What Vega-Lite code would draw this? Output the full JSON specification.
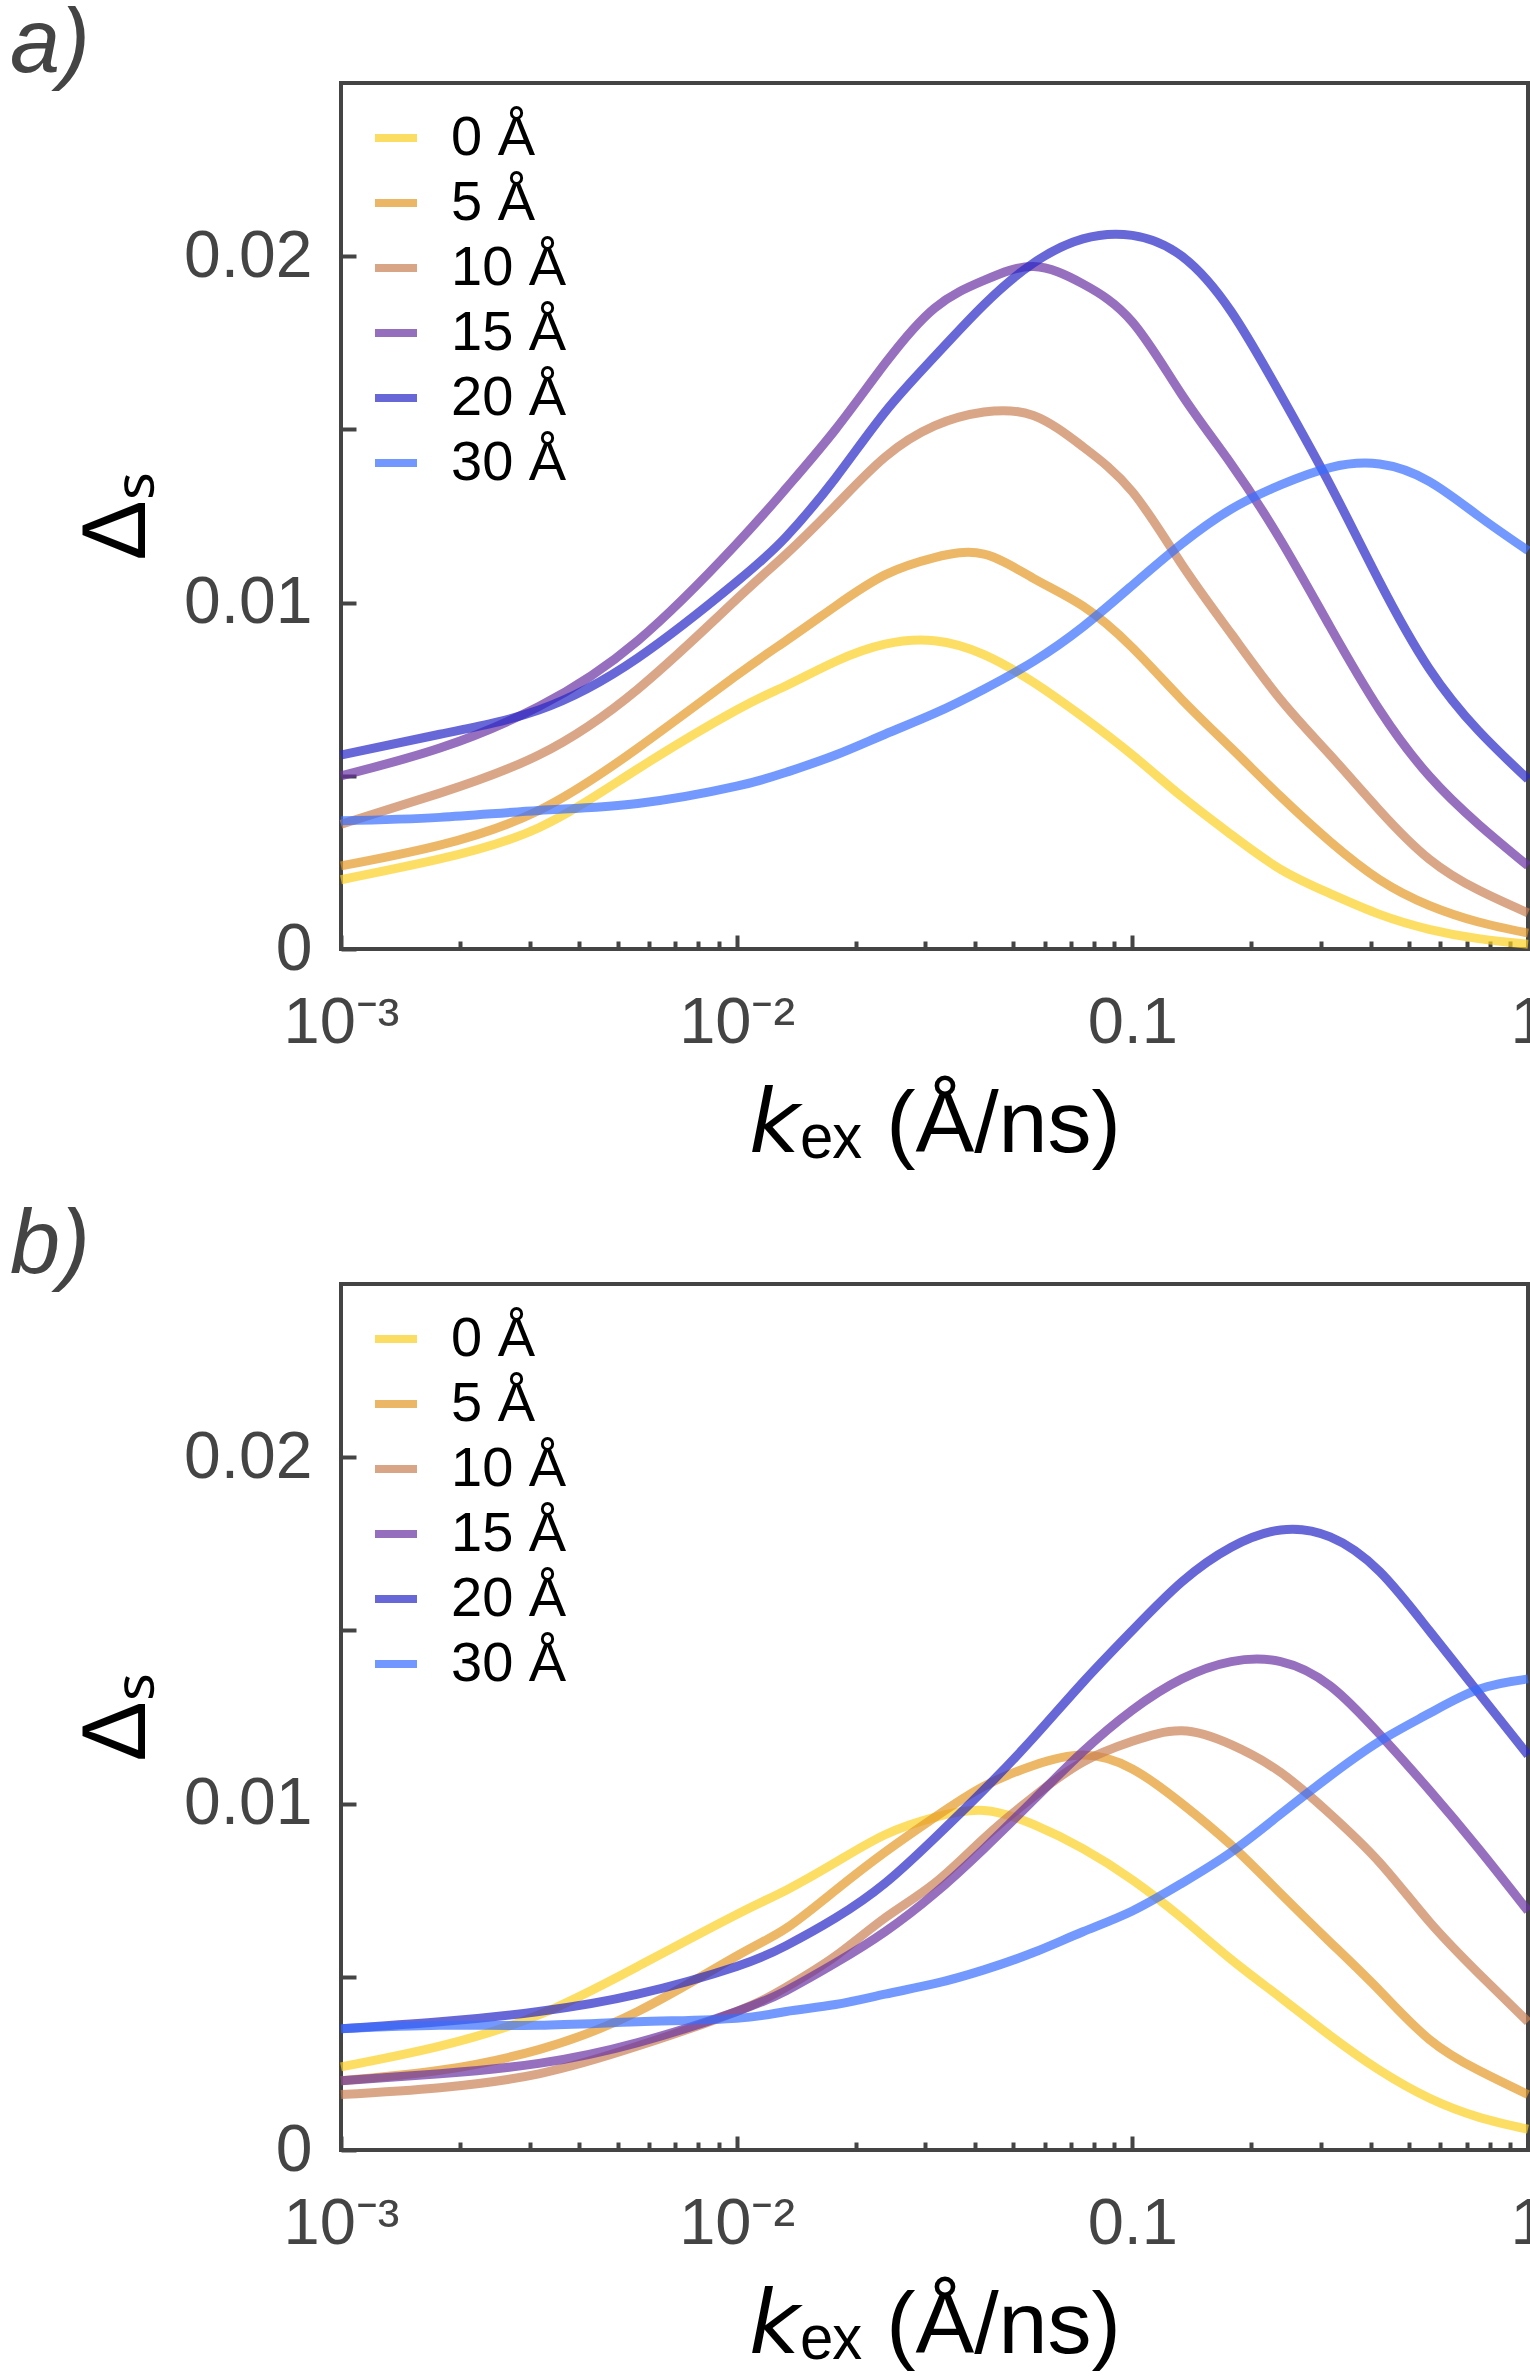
{
  "$schema": "https://vega.github.io/schema/vega-lite/v6.json",
  "description": "Delta_S versus k_ex for several distances, two panels (a, b).",
  "background": "white",
  "padding": {"left": 8, "top": -2, "right": 0, "bottom": 0},
  "spacing": 28,
  "config": {
    "font": "Liberation Sans",
    "view": {"stroke": "#444444", "strokeWidth": 4},
    "axis": {
      "domain": false,
      "grid": false,
      "tickColor": "#444444",
      "tickWidth": 4,
      "labelFont": "Liberation Sans",
      "labelColor": "#444444",
      "labelOverlap": false,
      "labelFlush": false,
      "titleFont": "Liberation Sans",
      "titleFontWeight": "normal",
      "titleColor": "black"
    },
    "legend": {
      "title": null,
      "orient": "top-left",
      "offset": 27,
      "padding": 0,
      "symbolType": "stroke",
      "symbolSize": 1764,
      "symbolStrokeWidth": 8,
      "symbolOpacity": 0.7,
      "labelFont": "Liberation Sans",
      "labelFontSize": 56,
      "labelColor": "black",
      "labelOffset": 27,
      "rowPadding": 9
    },
    "title": {"font": "Liberation Sans", "fontSize": 90, "fontStyle": "italic", "fontWeight": "normal", "color": "#444444", "anchor": "start", "frame": "group", "dx": -331, "offset": -8, "baseline": "bottom"}
  },
  "datasets": {
    "a": [
      {"d": "0 Å", "k": 0.001, "v": 0.0020}, {"d": "0 Å", "k": 0.001778, "v": 0.0026}, {"d": "0 Å", "k": 0.003162, "v": 0.0035}, {"d": "0 Å", "k": 0.005623, "v": 0.0052}, {"d": "0 Å", "k": 0.01, "v": 0.0069}, {"d": "0 Å", "k": 0.01334, "v": 0.0076}, {"d": "0 Å", "k": 0.01778, "v": 0.0083}, {"d": "0 Å", "k": 0.02371, "v": 0.0088}, {"d": "0 Å", "k": 0.03162, "v": 0.0089}, {"d": "0 Å", "k": 0.04217, "v": 0.0085}, {"d": "0 Å", "k": 0.05623, "v": 0.0077}, {"d": "0 Å", "k": 0.07499, "v": 0.0067}, {"d": "0 Å", "k": 0.1, "v": 0.0056}, {"d": "0 Å", "k": 0.1334, "v": 0.0044}, {"d": "0 Å", "k": 0.1778, "v": 0.0033}, {"d": "0 Å", "k": 0.2371, "v": 0.0023}, {"d": "0 Å", "k": 0.3162, "v": 0.0016}, {"d": "0 Å", "k": 0.4217, "v": 0.0010}, {"d": "0 Å", "k": 0.5623, "v": 0.00057}, {"d": "0 Å", "k": 0.7499, "v": 0.0003}, {"d": "0 Å", "k": 1, "v": 0.00014},
      {"d": "5 Å", "k": 0.001, "v": 0.0024}, {"d": "5 Å", "k": 0.001778, "v": 0.0030}, {"d": "5 Å", "k": 0.003162, "v": 0.0040}, {"d": "5 Å", "k": 0.005623, "v": 0.0058}, {"d": "5 Å", "k": 0.01, "v": 0.0079}, {"d": "5 Å", "k": 0.01334, "v": 0.0089}, {"d": "5 Å", "k": 0.01778, "v": 0.0099}, {"d": "5 Å", "k": 0.02371, "v": 0.0108}, {"d": "5 Å", "k": 0.03162, "v": 0.0113}, {"d": "5 Å", "k": 0.04217, "v": 0.0114}, {"d": "5 Å", "k": 0.05623, "v": 0.0107}, {"d": "5 Å", "k": 0.07499, "v": 0.0099}, {"d": "5 Å", "k": 0.1, "v": 0.0087}, {"d": "5 Å", "k": 0.1334, "v": 0.0072}, {"d": "5 Å", "k": 0.1778, "v": 0.0058}, {"d": "5 Å", "k": 0.2371, "v": 0.0044}, {"d": "5 Å", "k": 0.3162, "v": 0.0031}, {"d": "5 Å", "k": 0.4217, "v": 0.0020}, {"d": "5 Å", "k": 0.5623, "v": 0.00126}, {"d": "5 Å", "k": 0.7499, "v": 0.00078}, {"d": "5 Å", "k": 1, "v": 0.00046},
      {"d": "10 Å", "k": 0.001, "v": 0.0036}, {"d": "10 Å", "k": 0.001778, "v": 0.0045}, {"d": "10 Å", "k": 0.003162, "v": 0.0056}, {"d": "10 Å", "k": 0.005623, "v": 0.0075}, {"d": "10 Å", "k": 0.01, "v": 0.0101}, {"d": "10 Å", "k": 0.01334, "v": 0.0114}, {"d": "10 Å", "k": 0.01778, "v": 0.0128}, {"d": "10 Å", "k": 0.02371, "v": 0.0142}, {"d": "10 Å", "k": 0.03162, "v": 0.0151}, {"d": "10 Å", "k": 0.04217, "v": 0.0155}, {"d": "10 Å", "k": 0.05623, "v": 0.0154}, {"d": "10 Å", "k": 0.07499, "v": 0.0145}, {"d": "10 Å", "k": 0.1, "v": 0.0132}, {"d": "10 Å", "k": 0.1334, "v": 0.0111}, {"d": "10 Å", "k": 0.1778, "v": 0.0091}, {"d": "10 Å", "k": 0.2371, "v": 0.0072}, {"d": "10 Å", "k": 0.3162, "v": 0.0056}, {"d": "10 Å", "k": 0.4217, "v": 0.0040}, {"d": "10 Å", "k": 0.5623, "v": 0.0026}, {"d": "10 Å", "k": 0.7499, "v": 0.0017}, {"d": "10 Å", "k": 1, "v": 0.00104},
      {"d": "15 Å", "k": 0.001, "v": 0.0050}, {"d": "15 Å", "k": 0.001778, "v": 0.0058}, {"d": "15 Å", "k": 0.003162, "v": 0.0070}, {"d": "15 Å", "k": 0.005623, "v": 0.0089}, {"d": "15 Å", "k": 0.01, "v": 0.0117}, {"d": "15 Å", "k": 0.01334, "v": 0.0133}, {"d": "15 Å", "k": 0.01778, "v": 0.0150}, {"d": "15 Å", "k": 0.02371, "v": 0.0169}, {"d": "15 Å", "k": 0.03162, "v": 0.0185}, {"d": "15 Å", "k": 0.04217, "v": 0.0193}, {"d": "15 Å", "k": 0.05623, "v": 0.0197}, {"d": "15 Å", "k": 0.07499, "v": 0.0192}, {"d": "15 Å", "k": 0.1, "v": 0.0181}, {"d": "15 Å", "k": 0.1334, "v": 0.0160}, {"d": "15 Å", "k": 0.1778, "v": 0.0140}, {"d": "15 Å", "k": 0.2371, "v": 0.0118}, {"d": "15 Å", "k": 0.3162, "v": 0.0093}, {"d": "15 Å", "k": 0.4217, "v": 0.0069}, {"d": "15 Å", "k": 0.5623, "v": 0.0050}, {"d": "15 Å", "k": 0.7499, "v": 0.0036}, {"d": "15 Å", "k": 1, "v": 0.0024},
      {"d": "20 Å", "k": 0.001, "v": 0.0056}, {"d": "20 Å", "k": 0.001778, "v": 0.0062}, {"d": "20 Å", "k": 0.003162, "v": 0.0069}, {"d": "20 Å", "k": 0.005623, "v": 0.0084}, {"d": "20 Å", "k": 0.01, "v": 0.0106}, {"d": "20 Å", "k": 0.01334, "v": 0.0119}, {"d": "20 Å", "k": 0.01778, "v": 0.0136}, {"d": "20 Å", "k": 0.02371, "v": 0.0155}, {"d": "20 Å", "k": 0.03162, "v": 0.0171}, {"d": "20 Å", "k": 0.04217, "v": 0.0186}, {"d": "20 Å", "k": 0.05623, "v": 0.0198}, {"d": "20 Å", "k": 0.07499, "v": 0.0205}, {"d": "20 Å", "k": 0.1, "v": 0.0206}, {"d": "20 Å", "k": 0.1334, "v": 0.0200}, {"d": "20 Å", "k": 0.1778, "v": 0.0184}, {"d": "20 Å", "k": 0.2371, "v": 0.0160}, {"d": "20 Å", "k": 0.3162, "v": 0.0134}, {"d": "20 Å", "k": 0.4217, "v": 0.0106}, {"d": "20 Å", "k": 0.5623, "v": 0.0081}, {"d": "20 Å", "k": 0.7499, "v": 0.0063}, {"d": "20 Å", "k": 1, "v": 0.0049},
      {"d": "30 Å", "k": 0.001, "v": 0.0037}, {"d": "30 Å", "k": 0.001778, "v": 0.0038}, {"d": "30 Å", "k": 0.003162, "v": 0.0040}, {"d": "30 Å", "k": 0.005623, "v": 0.0042}, {"d": "30 Å", "k": 0.01, "v": 0.0047}, {"d": "30 Å", "k": 0.01334, "v": 0.0051}, {"d": "30 Å", "k": 0.01778, "v": 0.0056}, {"d": "30 Å", "k": 0.02371, "v": 0.0062}, {"d": "30 Å", "k": 0.03162, "v": 0.0068}, {"d": "30 Å", "k": 0.04217, "v": 0.0075}, {"d": "30 Å", "k": 0.05623, "v": 0.0083}, {"d": "30 Å", "k": 0.07499, "v": 0.0093}, {"d": "30 Å", "k": 0.1, "v": 0.0105}, {"d": "30 Å", "k": 0.1334, "v": 0.0117}, {"d": "30 Å", "k": 0.1778, "v": 0.0127}, {"d": "30 Å", "k": 0.2371, "v": 0.0134}, {"d": "30 Å", "k": 0.3162, "v": 0.0139}, {"d": "30 Å", "k": 0.4217, "v": 0.0140}, {"d": "30 Å", "k": 0.5623, "v": 0.0135}, {"d": "30 Å", "k": 0.7499, "v": 0.0125}, {"d": "30 Å", "k": 1, "v": 0.0115}
    ],
    "b": [
      {"d": "0 Å", "k": 0.001, "v": 0.0024}, {"d": "0 Å", "k": 0.001778, "v": 0.0030}, {"d": "0 Å", "k": 0.003162, "v": 0.0039}, {"d": "0 Å", "k": 0.005623, "v": 0.0053}, {"d": "0 Å", "k": 0.01, "v": 0.0068}, {"d": "0 Å", "k": 0.01334, "v": 0.0075}, {"d": "0 Å", "k": 0.01778, "v": 0.0083}, {"d": "0 Å", "k": 0.02371, "v": 0.0091}, {"d": "0 Å", "k": 0.03162, "v": 0.0096}, {"d": "0 Å", "k": 0.04217, "v": 0.0098}, {"d": "0 Å", "k": 0.05623, "v": 0.0094}, {"d": "0 Å", "k": 0.07499, "v": 0.0087}, {"d": "0 Å", "k": 0.1, "v": 0.0078}, {"d": "0 Å", "k": 0.1334, "v": 0.0067}, {"d": "0 Å", "k": 0.1778, "v": 0.0055}, {"d": "0 Å", "k": 0.2371, "v": 0.0044}, {"d": "0 Å", "k": 0.3162, "v": 0.0033}, {"d": "0 Å", "k": 0.4217, "v": 0.0023}, {"d": "0 Å", "k": 0.5623, "v": 0.0015}, {"d": "0 Å", "k": 0.7499, "v": 0.00095}, {"d": "0 Å", "k": 1, "v": 0.0006},
      {"d": "5 Å", "k": 0.001, "v": 0.0020}, {"d": "5 Å", "k": 0.001778, "v": 0.0023}, {"d": "5 Å", "k": 0.003162, "v": 0.0029}, {"d": "5 Å", "k": 0.005623, "v": 0.0040}, {"d": "5 Å", "k": 0.01, "v": 0.0056}, {"d": "5 Å", "k": 0.01334, "v": 0.0064}, {"d": "5 Å", "k": 0.01778, "v": 0.0075}, {"d": "5 Å", "k": 0.02371, "v": 0.0086}, {"d": "5 Å", "k": 0.03162, "v": 0.0096}, {"d": "5 Å", "k": 0.04217, "v": 0.0105}, {"d": "5 Å", "k": 0.05623, "v": 0.0111}, {"d": "5 Å", "k": 0.07499, "v": 0.0114}, {"d": "5 Å", "k": 0.1, "v": 0.0110}, {"d": "5 Å", "k": 0.1334, "v": 0.0100}, {"d": "5 Å", "k": 0.1778, "v": 0.0088}, {"d": "5 Å", "k": 0.2371, "v": 0.0074}, {"d": "5 Å", "k": 0.3162, "v": 0.0060}, {"d": "5 Å", "k": 0.4217, "v": 0.0046}, {"d": "5 Å", "k": 0.5623, "v": 0.0032}, {"d": "5 Å", "k": 0.7499, "v": 0.0023}, {"d": "5 Å", "k": 1, "v": 0.0016},
      {"d": "10 Å", "k": 0.001, "v": 0.0016}, {"d": "10 Å", "k": 0.001778, "v": 0.0018}, {"d": "10 Å", "k": 0.003162, "v": 0.0022}, {"d": "10 Å", "k": 0.005623, "v": 0.0030}, {"d": "10 Å", "k": 0.01, "v": 0.0040}, {"d": "10 Å", "k": 0.01334, "v": 0.0047}, {"d": "10 Å", "k": 0.01778, "v": 0.0056}, {"d": "10 Å", "k": 0.02371, "v": 0.0067}, {"d": "10 Å", "k": 0.03162, "v": 0.0077}, {"d": "10 Å", "k": 0.04217, "v": 0.0090}, {"d": "10 Å", "k": 0.05623, "v": 0.0102}, {"d": "10 Å", "k": 0.07499, "v": 0.0112}, {"d": "10 Å", "k": 0.1, "v": 0.0118}, {"d": "10 Å", "k": 0.1334, "v": 0.0121}, {"d": "10 Å", "k": 0.1778, "v": 0.0117}, {"d": "10 Å", "k": 0.2371, "v": 0.0109}, {"d": "10 Å", "k": 0.3162, "v": 0.0097}, {"d": "10 Å", "k": 0.4217, "v": 0.0083}, {"d": "10 Å", "k": 0.5623, "v": 0.0066}, {"d": "10 Å", "k": 0.7499, "v": 0.0051}, {"d": "10 Å", "k": 1, "v": 0.0037},
      {"d": "15 Å", "k": 0.001, "v": 0.0020}, {"d": "15 Å", "k": 0.001778, "v": 0.0022}, {"d": "15 Å", "k": 0.003162, "v": 0.0025}, {"d": "15 Å", "k": 0.005623, "v": 0.0031}, {"d": "15 Å", "k": 0.01, "v": 0.0040}, {"d": "15 Å", "k": 0.01334, "v": 0.0046}, {"d": "15 Å", "k": 0.01778, "v": 0.0054}, {"d": "15 Å", "k": 0.02371, "v": 0.0063}, {"d": "15 Å", "k": 0.03162, "v": 0.0074}, {"d": "15 Å", "k": 0.04217, "v": 0.0087}, {"d": "15 Å", "k": 0.05623, "v": 0.0101}, {"d": "15 Å", "k": 0.07499, "v": 0.0115}, {"d": "15 Å", "k": 0.1, "v": 0.0127}, {"d": "15 Å", "k": 0.1334, "v": 0.0136}, {"d": "15 Å", "k": 0.1778, "v": 0.0141}, {"d": "15 Å", "k": 0.2371, "v": 0.0141}, {"d": "15 Å", "k": 0.3162, "v": 0.0134}, {"d": "15 Å", "k": 0.4217, "v": 0.0120}, {"d": "15 Å", "k": 0.5623, "v": 0.0104}, {"d": "15 Å", "k": 0.7499, "v": 0.0087}, {"d": "15 Å", "k": 1, "v": 0.0069},
      {"d": "20 Å", "k": 0.001, "v": 0.0035}, {"d": "20 Å", "k": 0.001778, "v": 0.0037}, {"d": "20 Å", "k": 0.003162, "v": 0.0040}, {"d": "20 Å", "k": 0.005623, "v": 0.0045}, {"d": "20 Å", "k": 0.01, "v": 0.0053}, {"d": "20 Å", "k": 0.01334, "v": 0.0059}, {"d": "20 Å", "k": 0.01778, "v": 0.0067}, {"d": "20 Å", "k": 0.02371, "v": 0.0077}, {"d": "20 Å", "k": 0.03162, "v": 0.0090}, {"d": "20 Å", "k": 0.04217, "v": 0.0104}, {"d": "20 Å", "k": 0.05623, "v": 0.0119}, {"d": "20 Å", "k": 0.07499, "v": 0.0135}, {"d": "20 Å", "k": 0.1, "v": 0.0150}, {"d": "20 Å", "k": 0.1334, "v": 0.0164}, {"d": "20 Å", "k": 0.1778, "v": 0.0174}, {"d": "20 Å", "k": 0.2371, "v": 0.0179}, {"d": "20 Å", "k": 0.3162, "v": 0.0177}, {"d": "20 Å", "k": 0.4217, "v": 0.0167}, {"d": "20 Å", "k": 0.5623, "v": 0.0150}, {"d": "20 Å", "k": 0.7499, "v": 0.0132}, {"d": "20 Å", "k": 1, "v": 0.0114},
      {"d": "30 Å", "k": 0.001, "v": 0.0035}, {"d": "30 Å", "k": 0.001778, "v": 0.0036}, {"d": "30 Å", "k": 0.003162, "v": 0.0036}, {"d": "30 Å", "k": 0.005623, "v": 0.0037}, {"d": "30 Å", "k": 0.01, "v": 0.0038}, {"d": "30 Å", "k": 0.01334, "v": 0.0040}, {"d": "30 Å", "k": 0.01778, "v": 0.0042}, {"d": "30 Å", "k": 0.02371, "v": 0.0045}, {"d": "30 Å", "k": 0.03162, "v": 0.0048}, {"d": "30 Å", "k": 0.04217, "v": 0.0052}, {"d": "30 Å", "k": 0.05623, "v": 0.0057}, {"d": "30 Å", "k": 0.07499, "v": 0.0063}, {"d": "30 Å", "k": 0.1, "v": 0.0069}, {"d": "30 Å", "k": 0.1334, "v": 0.0077}, {"d": "30 Å", "k": 0.1778, "v": 0.0086}, {"d": "30 Å", "k": 0.2371, "v": 0.0097}, {"d": "30 Å", "k": 0.3162, "v": 0.0108}, {"d": "30 Å", "k": 0.4217, "v": 0.0118}, {"d": "30 Å", "k": 0.5623, "v": 0.0126}, {"d": "30 Å", "k": 0.7499, "v": 0.0133}, {"d": "30 Å", "k": 1, "v": 0.0136}
    ]
  },
  "resolve": {"scale": {"color": "independent"}, "legend": {"color": "independent"}},
  "vconcat": [
    {
      "data": {"name": "a"},
      "width": 1187,
      "height": 866,
      "title": {"text": "a)"},
      "mark": {"type": "line", "strokeWidth": 9, "opacity": 0.7, "interpolate": "natural"},
      "encoding": {
        "x": {
          "field": "k",
          "type": "quantitative",
          "scale": {"type": "log", "domain": [0.001, 1], "nice": false},
          "axis": {
            "title": "𝘬ₑₓ (Å/ns)",
            "values": [0.001, 0.002, 0.003, 0.004, 0.005, 0.006, 0.007, 0.008, 0.009, 0.01, 0.02, 0.03, 0.04, 0.05, 0.06, 0.07, 0.08, 0.09, 0.1, 0.2, 0.3, 0.4, 0.5, 0.6, 0.7, 0.8, 0.9, 1],
            "labelExpr": "datum.value == 0.001 ? '10⁻³' : datum.value == 0.01 ? '10⁻²' : datum.value == 0.1 ? '0.1' : datum.value == 1 ? '1' : ''",
            "tickSize": {"condition": {"test": "datum.value == 0.001 || datum.value == 0.01 || datum.value == 0.1 || datum.value == 1", "value": -14}, "value": -8},
            "labelFontSize": 65,
            "labelPadding": 56,
            "titleFontSize": 88,
            "titlePadding": 20
          }
        },
        "y": {
          "field": "v",
          "type": "quantitative",
          "scale": {"domain": [0, 0.025], "nice": false},
          "axis": {
            "title": "Δₛ",
            "values": [0, 0.005, 0.01, 0.015, 0.02],
            "labelExpr": "datum.value == 0 ? '0' : datum.value == 0.01 ? '0.01' : datum.value == 0.02 ? '0.02' : ''",
            "tickSize": -15,
            "labelFontSize": 66,
            "labelPadding": 44,
            "titleFontSize": 90,
            "titlePadding": 20
          }
        },
        "color": {
          "field": "d",
          "type": "nominal",
          "scale": {"domain": ["0 Å", "5 Å", "10 Å", "15 Å", "20 Å", "30 Å"], "range": ["#FCD022", "#E49827", "#CA8055", "#6933A2", "#2727C7", "#376DFF"]},
          "legend": {}
        }
      }
    },
    {
      "data": {"name": "b"},
      "width": 1187,
      "height": 866,
      "title": {"text": "b)"},
      "mark": {"type": "line", "strokeWidth": 9, "opacity": 0.7, "interpolate": "natural"},
      "encoding": {
        "x": {
          "field": "k",
          "type": "quantitative",
          "scale": {"type": "log", "domain": [0.001, 1], "nice": false},
          "axis": {
            "title": "𝘬ₑₓ (Å/ns)",
            "values": [0.001, 0.002, 0.003, 0.004, 0.005, 0.006, 0.007, 0.008, 0.009, 0.01, 0.02, 0.03, 0.04, 0.05, 0.06, 0.07, 0.08, 0.09, 0.1, 0.2, 0.3, 0.4, 0.5, 0.6, 0.7, 0.8, 0.9, 1],
            "labelExpr": "datum.value == 0.001 ? '10⁻³' : datum.value == 0.01 ? '10⁻²' : datum.value == 0.1 ? '0.1' : datum.value == 1 ? '1' : ''",
            "tickSize": {"condition": {"test": "datum.value == 0.001 || datum.value == 0.01 || datum.value == 0.1 || datum.value == 1", "value": -14}, "value": -8},
            "labelFontSize": 65,
            "labelPadding": 56,
            "titleFontSize": 88,
            "titlePadding": 20
          }
        },
        "y": {
          "field": "v",
          "type": "quantitative",
          "scale": {"domain": [0, 0.025], "nice": false},
          "axis": {
            "title": "Δₛ",
            "values": [0, 0.005, 0.01, 0.015, 0.02],
            "labelExpr": "datum.value == 0 ? '0' : datum.value == 0.01 ? '0.01' : datum.value == 0.02 ? '0.02' : ''",
            "tickSize": -15,
            "labelFontSize": 66,
            "labelPadding": 44,
            "titleFontSize": 90,
            "titlePadding": 20
          }
        },
        "color": {
          "field": "d",
          "type": "nominal",
          "scale": {"domain": ["0 Å", "5 Å", "10 Å", "15 Å", "20 Å", "30 Å"], "range": ["#FCD022", "#E49827", "#CA8055", "#6933A2", "#2727C7", "#376DFF"]},
          "legend": {}
        }
      }
    }
  ]
}
